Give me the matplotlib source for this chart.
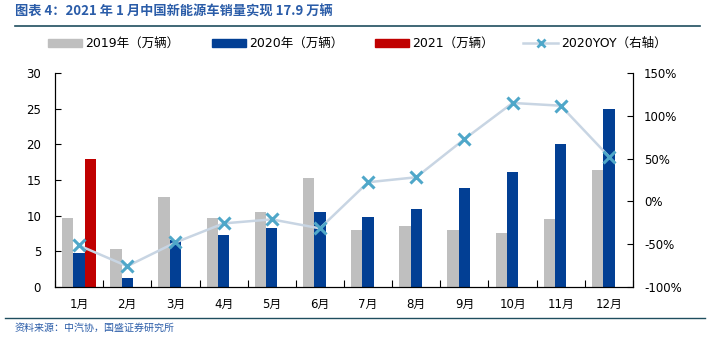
import matplotlib
matplotlib.use("Agg")
import matplotlib.pyplot as plt
from matplotlib.lines import Line2D
from matplotlib.patches import Rectangle
import numpy as np

plt.rcParams['font.family'] = ['DejaVu Sans', 'Noto Sans CJK SC']

months = ['1月', '2月', '3月', '4月', '5月', '6月', '7月', '8月', '9月', '10月', '11月', '12月']
sales_2019 = [9.7, 5.3, 12.6, 9.7, 10.5, 15.3, 8.0, 8.6, 8.0, 7.6, 9.5, 16.4]
sales_2020 = [4.8, 1.2, 6.6, 7.3, 8.3, 10.5, 9.8, 10.9, 13.9, 16.1, 20.0, 24.9]
sales_2021 = [17.9]
yoy_2020 = [-51.5, -75.7, -48, -25.7, -21, -31.5, 22.4, 28.2, 72.8, 115, 111.8, 52.4]
legend_labels = ['2019年（万辆）', '2020年（万辆）', '2021（万辆）', '2020YOY（右轴）']

c_gray = '#BFBFBF'
c_blue = '#023F94'
c_red = '#C00000'
c_line = '#C8D5E3'
c_mark = '#4FA7C9'
c_title = '#2A5CA8'

W, H = 713, 337
fig = plt.figure(figsize=(W/100, H/100), dpi=100)
ax = fig.add_axes([55/W, 1-287/H, (633-55)/W, (287-73)/H])
ax2 = ax.twinx()

x = np.arange(len(months))
w = 0.235
ax.bar(x - w, sales_2019, w, color=c_gray, zorder=2)
ax.bar(x, sales_2020, w, color=c_blue, zorder=2)
ax.bar(x[:len(sales_2021)] + w, sales_2021, w, color=c_red, zorder=2)

ax2.plot(x, yoy_2020, color=c_line, lw=1.8, marker='x', ms=8, mew=2.2,
         mec=c_mark, zorder=3)

ax.set_xlim(-0.5, len(months) - 0.5)
ax.set_ylim(0, 30)
ax.set_yticks([0, 5, 10, 15, 20, 25, 30])
ax2.set_ylim(-100, 150)
ax2.set_yticks([-100, -50, 0, 50, 100, 150])
ax2.set_yticklabels([f'{v}%' for v in [-100, -50, 0, 50, 100, 150]])

ax.set_xticks(x)
ax.set_xticklabels(months)
ax.set_xticks(np.arange(-0.5, len(months), 1), minor=True)
ax.tick_params(axis='x', which='major', length=0, labelsize=8.5, pad=8)
ax.tick_params(axis='x', which='minor', direction='in', length=5, width=0.8)
ax.tick_params(axis='y', direction='in', length=4, width=0.8, labelsize=8.5, pad=10)
ax2.tick_params(axis='y', direction='in', length=4, width=0.8, labelsize=8.5, pad=8)

for a in (ax, ax2):
    a.spines['top'].set_visible(False)
    for s in ('left', 'right', 'bottom'):
        a.spines[s].set_linewidth(0.8)
        a.spines[s].set_color('black')
ax.set_zorder(ax2.get_zorder() - 1)
ax2.patch.set_visible(False)

# manual legend
ly = 43
patch_x = [48, 212, 375]
patch_c = [c_gray, c_blue, c_red]
for px, pc, lab in zip(patch_x, patch_c, legend_labels[:3]):
    fig.add_artist(Rectangle((px/W, 1-(ly+3.5)/H), 34/W, 7/H, color=pc,
                             transform=fig.transFigure))
    fig.text((px+37)/W, 1-ly/H, lab, fontsize=9, va='center', ha='left')
fig.add_artist(Line2D([523/W, 558/W], [1-ly/H, 1-ly/H], color=c_line, lw=1.8,
                      transform=fig.transFigure))
fig.add_artist(Line2D([540.5/W], [1-ly/H], marker='x', ms=6, mew=2, color=c_mark,
                      transform=fig.transFigure))
fig.text(561/W, 1-ly/H, legend_labels[3], fontsize=9, va='center', ha='left')

fig.text(15/W, 1-12/H, '图表 4：2021 年 1 月中国新能源车销量实现 17.9 万辆',
         color=c_title, fontsize=9.5, style='italic', fontweight='bold',
         va='center', ha='left', family=['Noto Sans CJK SC', 'DejaVu Sans'])
fig.add_artist(Line2D([15/W, 700/W], [1-26/H, 1-26/H], color='#1F4E5F', lw=1.2))
fig.add_artist(Line2D([5/W, 705/W], [1-318/H, 1-318/H], color='#1F4E5F', lw=1.0))
fig.text(15/W, 1-328/H, '资料来源：中汽协，国盛证券研究所', color=c_title,
         fontsize=7.2, style='italic', va='center', ha='left',
         family=['Noto Sans CJK SC', 'DejaVu Sans'])

fig.savefig('out.png', dpi=100)
